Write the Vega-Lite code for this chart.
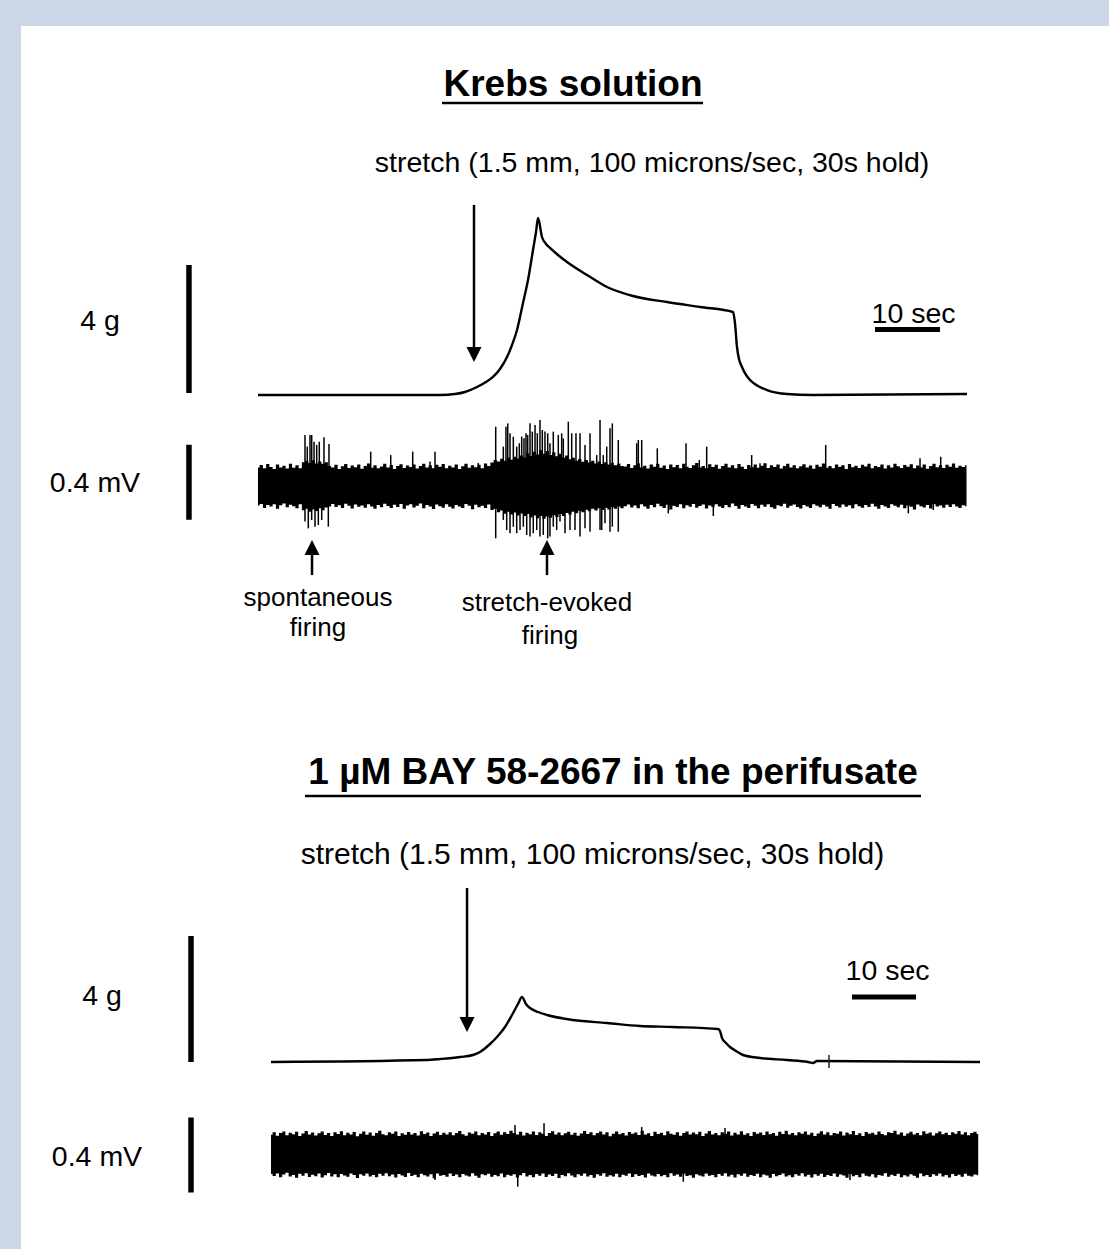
{
"$schema":"https://vega.github.io/schema/vega-lite/v6.json",
"width":1109,"height":1249,
"autosize":{"type":"fit","contains":"padding"},
"padding":{"left":21,"top":26,"right":0,"bottom":0},
"background":"#cdd6e6",
"config":{"view":{"stroke":null,"fill":"#ffffff"},"text":{"font":"Liberation Sans","color":"#000000"}},
"resolve":{"scale":{"x":"independent","y":"independent"}},
"datasets":{
"topForce":[{"t":0,"v":0},{"t":28.0,"v":0},{"t":30.31,"v":0.031},{"t":31.85,"v":0.094},{"t":33.69,"v":0.25},{"t":35.08,"v":0.406},{"t":36.15,"v":0.5625},{"t":37.23,"v":0.8125},{"t":38.31,"v":1.1875},{"t":39.08,"v":1.5625},{"t":39.85,"v":2.031},{"t":40.77,"v":2.875},{"t":41.54,"v":3.594},{"t":42.31,"v":4.531},{"t":42.77,"v":5.094},{"t":43.08,"v":5.531},{"t":43.69,"v":4.938},{"t":44.31,"v":4.719},{"t":44.92,"v":4.594},{"t":46.15,"v":4.375},{"t":47.54,"v":4.156},{"t":50.62,"v":3.75},{"t":53.69,"v":3.375},{"t":57.69,"v":3.094},{"t":62.92,"v":2.906},{"t":68.0,"v":2.75},{"t":73.08,"v":2.594},{"t":73.38,"v":2.25},{"t":73.69,"v":1.5},{"t":74.0,"v":1.125},{"t":74.46,"v":0.875},{"t":75.08,"v":0.625},{"t":75.69,"v":0.469},{"t":76.92,"v":0.281},{"t":78.31,"v":0.156},{"t":81.38,"v":0.031},{"t":85.38,"v":0},{"t":109.08,"v":0.031}],
"bottomForce":[{"t":0,"v":0},{"t":24.38,"v":0.063},{"t":26.41,"v":0.095},{"t":29.53,"v":0.159},{"t":31.56,"v":0.222},{"t":32.66,"v":0.317},{"t":34.22,"v":0.571},{"t":35.31,"v":0.794},{"t":36.56,"v":1.111},{"t":37.66,"v":1.492},{"t":38.59,"v":1.841},{"t":39.22,"v":2.063},{"t":39.84,"v":1.841},{"t":40.47,"v":1.714},{"t":41.72,"v":1.587},{"t":43.13,"v":1.492},{"t":47.19,"v":1.333},{"t":52.5,"v":1.238},{"t":57.66,"v":1.143},{"t":62.81,"v":1.111},{"t":69.84,"v":1.048},{"t":70.16,"v":0.984},{"t":70.47,"v":0.762},{"t":71.09,"v":0.603},{"t":71.72,"v":0.476},{"t":72.66,"v":0.349},{"t":73.75,"v":0.222},{"t":76.41,"v":0.127},{"t":80.63,"v":0.063},{"t":83.91,"v":0},{"t":84.69,"v":-0.032},{"t":85.31,"v":0.032},{"t":110.78,"v":0}],
"topBand":[
{"t":0,"v":0.098,"v2":-0.104},{"t":0.5,"v":0.112,"v2":-0.096},{"t":1,"v":0.094,"v2":-0.118},{"t":1.5,"v":0.117,"v2":-0.101},{"t":2,"v":0.101,"v2":-0.110},{"t":2.5,"v":0.090,"v2":-0.097},{"t":3,"v":0.114,"v2":-0.121},{"t":3.5,"v":0.099,"v2":-0.103},{"t":4,"v":0.108,"v2":-0.094},{"t":4.5,"v":0.093,"v2":-0.114},
{"t":5,"v":0.119,"v2":-0.100},{"t":5.5,"v":0.097,"v2":-0.108},{"t":6,"v":0.110,"v2":-0.119},{"t":6.5,"v":0.095,"v2":-0.098},{"t":7,"v":0.126,"v2":-0.130},{"t":7.5,"v":0.134,"v2":-0.121},{"t":8,"v":0.122,"v2":-0.138},{"t":8.5,"v":0.137,"v2":-0.126},{"t":9,"v":0.120,"v2":-0.133},{"t":9.5,"v":0.131,"v2":-0.119},
{"t":10,"v":0.118,"v2":-0.129},{"t":10.5,"v":0.127,"v2":-0.115},{"t":11,"v":0.106,"v2":-0.109},{"t":11.5,"v":0.098,"v2":-0.096},{"t":12,"v":0.113,"v2":-0.112},{"t":12.5,"v":0.091,"v2":-0.103},{"t":13,"v":0.105,"v2":-0.117},{"t":13.5,"v":0.117,"v2":-0.095},{"t":14,"v":0.096,"v2":-0.106},{"t":14.5,"v":0.109,"v2":-0.120},
{"t":15,"v":0.100,"v2":-0.099},{"t":15.5,"v":0.115,"v2":-0.111},{"t":16,"v":0.092,"v2":-0.104},{"t":16.5,"v":0.107,"v2":-0.116},{"t":17,"v":0.120,"v2":-0.097},{"t":17.5,"v":0.097,"v2":-0.109},{"t":18,"v":0.111,"v2":-0.122},{"t":18.5,"v":0.094,"v2":-0.101},{"t":19,"v":0.104,"v2":-0.113},{"t":19.5,"v":0.118,"v2":-0.095},
{"t":20,"v":0.099,"v2":-0.107},{"t":20.5,"v":0.112,"v2":-0.118},{"t":21,"v":0.090,"v2":-0.100},{"t":21.5,"v":0.106,"v2":-0.112},{"t":22,"v":0.116,"v2":-0.096},{"t":22.5,"v":0.096,"v2":-0.121},{"t":23,"v":0.109,"v2":-0.104},{"t":23.5,"v":0.101,"v2":-0.098},{"t":24,"v":0.114,"v2":-0.115},{"t":24.5,"v":0.093,"v2":-0.106},
{"t":25,"v":0.107,"v2":-0.094},{"t":25.5,"v":0.119,"v2":-0.119},{"t":26,"v":0.098,"v2":-0.102},{"t":26.5,"v":0.110,"v2":-0.110},{"t":27,"v":0.095,"v2":-0.123},{"t":27.5,"v":0.113,"v2":-0.099},{"t":28,"v":0.102,"v2":-0.108},{"t":28.5,"v":0.117,"v2":-0.116},{"t":29,"v":0.094,"v2":-0.097},{"t":29.5,"v":0.108,"v2":-0.111},
{"t":30,"v":0.099,"v2":-0.120},{"t":30.5,"v":0.115,"v2":-0.101},{"t":31,"v":0.091,"v2":-0.109},{"t":31.5,"v":0.105,"v2":-0.117},{"t":32,"v":0.118,"v2":-0.096},{"t":32.5,"v":0.097,"v2":-0.106},{"t":33,"v":0.111,"v2":-0.124},{"t":33.5,"v":0.100,"v2":-0.100},{"t":34,"v":0.113,"v2":-0.113},{"t":34.5,"v":0.095,"v2":-0.105},
{"t":35,"v":0.120,"v2":-0.118},{"t":35.5,"v":0.106,"v2":-0.099},{"t":36,"v":0.125,"v2":-0.128},{"t":36.5,"v":0.138,"v2":-0.122},{"t":37,"v":0.130,"v2":-0.140},{"t":37.5,"v":0.145,"v2":-0.131},{"t":38,"v":0.135,"v2":-0.148},{"t":38.5,"v":0.150,"v2":-0.137},{"t":39,"v":0.140,"v2":-0.152},{"t":39.5,"v":0.156,"v2":-0.142},
{"t":40,"v":0.146,"v2":-0.158},{"t":40.5,"v":0.162,"v2":-0.147},{"t":41,"v":0.152,"v2":-0.160},{"t":41.5,"v":0.175,"v2":-0.150},{"t":42,"v":0.160,"v2":-0.168},{"t":42.5,"v":0.182,"v2":-0.157},{"t":43,"v":0.168,"v2":-0.172},{"t":43.5,"v":0.190,"v2":-0.160},{"t":44,"v":0.172,"v2":-0.175},{"t":44.5,"v":0.186,"v2":-0.163},
{"t":45,"v":0.165,"v2":-0.170},{"t":45.5,"v":0.180,"v2":-0.156},{"t":46,"v":0.158,"v2":-0.165},{"t":46.5,"v":0.172,"v2":-0.150},{"t":47,"v":0.150,"v2":-0.160},{"t":47.5,"v":0.163,"v2":-0.144},{"t":48,"v":0.142,"v2":-0.152},{"t":48.5,"v":0.150,"v2":-0.138},{"t":49,"v":0.134,"v2":-0.146},{"t":49.5,"v":0.144,"v2":-0.132},
{"t":50,"v":0.129,"v2":-0.140},{"t":50.5,"v":0.139,"v2":-0.127},{"t":51,"v":0.125,"v2":-0.135},{"t":51.5,"v":0.134,"v2":-0.122},{"t":52,"v":0.120,"v2":-0.131},{"t":52.5,"v":0.130,"v2":-0.119},{"t":53,"v":0.117,"v2":-0.128},{"t":53.5,"v":0.127,"v2":-0.116},{"t":54,"v":0.114,"v2":-0.125},{"t":54.5,"v":0.124,"v2":-0.113},
{"t":55,"v":0.111,"v2":-0.122},{"t":55.5,"v":0.120,"v2":-0.110},{"t":56,"v":0.107,"v2":-0.119},{"t":56.5,"v":0.104,"v2":-0.108},{"t":57,"v":0.117,"v2":-0.099},{"t":57.5,"v":0.096,"v2":-0.115},{"t":58,"v":0.110,"v2":-0.104},{"t":58.5,"v":0.121,"v2":-0.119},{"t":59,"v":0.099,"v2":-0.097},{"t":59.5,"v":0.108,"v2":-0.110},
{"t":60,"v":0.093,"v2":-0.121},{"t":60.5,"v":0.115,"v2":-0.102},{"t":61,"v":0.102,"v2":-0.113},{"t":61.5,"v":0.118,"v2":-0.095},{"t":62,"v":0.097,"v2":-0.108},{"t":62.5,"v":0.109,"v2":-0.117},{"t":63,"v":0.091,"v2":-0.100},{"t":63.5,"v":0.114,"v2":-0.126},{"t":64,"v":0.100,"v2":-0.105},{"t":64.5,"v":0.112,"v2":-0.112},
{"t":65,"v":0.095,"v2":-0.098},{"t":65.5,"v":0.119,"v2":-0.119},{"t":66,"v":0.103,"v2":-0.103},{"t":66.5,"v":0.096,"v2":-0.111},{"t":67,"v":0.111,"v2":-0.096},{"t":67.5,"v":0.122,"v2":-0.116},{"t":68,"v":0.098,"v2":-0.107},{"t":68.5,"v":0.107,"v2":-0.099},{"t":69,"v":0.094,"v2":-0.120},{"t":69.5,"v":0.116,"v2":-0.104},
{"t":70,"v":0.101,"v2":-0.112},{"t":70.5,"v":0.113,"v2":-0.097},{"t":71,"v":0.092,"v2":-0.109},{"t":71.5,"v":0.106,"v2":-0.118},{"t":72,"v":0.119,"v2":-0.101},{"t":72.5,"v":0.099,"v2":-0.114},{"t":73,"v":0.110,"v2":-0.094},{"t":73.5,"v":0.095,"v2":-0.107},{"t":74,"v":0.117,"v2":-0.121},{"t":74.5,"v":0.103,"v2":-0.102},
{"t":75,"v":0.090,"v2":-0.110},{"t":75.5,"v":0.112,"v2":-0.117},{"t":76,"v":0.100,"v2":-0.096},{"t":76.5,"v":0.115,"v2":-0.105},{"t":77,"v":0.097,"v2":-0.119},{"t":77.5,"v":0.108,"v2":-0.100},{"t":78,"v":0.121,"v2":-0.111},{"t":78.5,"v":0.096,"v2":-0.098},{"t":79,"v":0.110,"v2":-0.113},{"t":79.5,"v":0.101,"v2":-0.122},
{"t":80,"v":0.114,"v2":-0.103},{"t":80.5,"v":0.093,"v2":-0.108},{"t":81,"v":0.107,"v2":-0.095},{"t":81.5,"v":0.118,"v2":-0.116},{"t":82,"v":0.098,"v2":-0.106},{"t":82.5,"v":0.111,"v2":-0.099},{"t":83,"v":0.094,"v2":-0.112},{"t":83.5,"v":0.105,"v2":-0.120},{"t":84,"v":0.116,"v2":-0.101},{"t":84.5,"v":0.099,"v2":-0.109},
{"t":85,"v":0.109,"v2":-0.118},{"t":85.5,"v":0.092,"v2":-0.097},{"t":86,"v":0.113,"v2":-0.105},{"t":86.5,"v":0.102,"v2":-0.114},{"t":87,"v":0.120,"v2":-0.100},{"t":87.5,"v":0.097,"v2":-0.110},{"t":88,"v":0.106,"v2":-0.121},{"t":88.5,"v":0.095,"v2":-0.096},{"t":89,"v":0.115,"v2":-0.107},{"t":89.5,"v":0.103,"v2":-0.115},
{"t":90,"v":0.110,"v2":-0.099},{"t":90.5,"v":0.091,"v2":-0.111},{"t":91,"v":0.117,"v2":-0.103},{"t":91.5,"v":0.100,"v2":-0.119},{"t":92,"v":0.108,"v2":-0.098},{"t":92.5,"v":0.096,"v2":-0.108},{"t":93,"v":0.113,"v2":-0.116},{"t":93.5,"v":0.104,"v2":-0.101},{"t":94,"v":0.119,"v2":-0.112},{"t":94.5,"v":0.094,"v2":-0.095},
{"t":95,"v":0.107,"v2":-0.110},{"t":95.5,"v":0.101,"v2":-0.121},{"t":96,"v":0.115,"v2":-0.102},{"t":96.5,"v":0.093,"v2":-0.109},{"t":97,"v":0.110,"v2":-0.117},{"t":97.5,"v":0.098,"v2":-0.097},{"t":98,"v":0.118,"v2":-0.106},{"t":98.5,"v":0.105,"v2":-0.113},{"t":99,"v":0.096,"v2":-0.100},{"t":99.5,"v":0.112,"v2":-0.119},
{"t":100,"v":0.102,"v2":-0.104},{"t":100.5,"v":0.116,"v2":-0.111},{"t":101,"v":0.095,"v2":-0.126},{"t":101.5,"v":0.109,"v2":-0.099},{"t":102,"v":0.099,"v2":-0.108},{"t":102.5,"v":0.114,"v2":-0.115},{"t":103,"v":0.092,"v2":-0.102},{"t":103.5,"v":0.106,"v2":-0.120},{"t":104,"v":0.118,"v2":-0.097},{"t":104.5,"v":0.100,"v2":-0.110},
{"t":105,"v":0.111,"v2":-0.104},{"t":105.5,"v":0.096,"v2":-0.116},{"t":106,"v":0.113,"v2":-0.100},{"t":106.5,"v":0.103,"v2":-0.112},{"t":107,"v":0.120,"v2":-0.098},{"t":107.5,"v":0.097,"v2":-0.109},{"t":108,"v":0.108,"v2":-0.117},{"t":108.5,"v":0.101,"v2":-0.103},{"t":109,"v":0.110,"v2":-0.108}],
"topSpikes":[
{"t":7.23,"v":0,"v2":0.272},{"t":7.58,"v":0,"v2":0.210},{"t":8.00,"v":0,"v2":0.272},{"t":8.26,"v":0,"v2":0.272},{"t":8.62,"v":0,"v2":0.236},{"t":9.03,"v":0,"v2":0.219},{"t":9.43,"v":0,"v2":0.236},{"t":10.15,"v":0,"v2":0.260},{"t":10.92,"v":0,"v2":0.224},
{"t":17.34,"v":0,"v2":0.183},{"t":20.42,"v":0,"v2":0.165},{"t":23.80,"v":0,"v2":0.183},{"t":27.23,"v":0,"v2":0.183},{"t":26.46,"v":0,"v2":0.130},{"t":33.89,"v":0,"v2":0.123},
{"t":36.57,"v":0,"v2":0.316},{"t":37.74,"v":0,"v2":0.210},{"t":38.15,"v":0,"v2":0.316},{"t":38.42,"v":0,"v2":0.334},{"t":38.77,"v":0,"v2":0.281},{"t":39.28,"v":0,"v2":0.263},{"t":39.80,"v":0,"v2":0.210},{"t":40.20,"v":0,"v2":0.228},{"t":40.57,"v":0,"v2":0.263},{"t":40.92,"v":0,"v2":0.254},
{"t":41.23,"v":0,"v2":0.281},{"t":41.49,"v":0,"v2":0.272},{"t":41.85,"v":0,"v2":0.334},{"t":42.20,"v":0,"v2":0.290},{"t":42.62,"v":0,"v2":0.325},{"t":42.97,"v":0,"v2":0.281},{"t":43.38,"v":0,"v2":0.352},{"t":43.74,"v":0,"v2":0.299},{"t":44.15,"v":0,"v2":0.290},{"t":44.57,"v":0,"v2":0.281},
{"t":44.92,"v":0,"v2":0.228},{"t":45.43,"v":0,"v2":0.290},{"t":46.20,"v":0,"v2":0.272},{"t":46.72,"v":0,"v2":0.281},{"t":46.97,"v":0,"v2":0.254},{"t":47.74,"v":0,"v2":0.343},{"t":48.26,"v":0,"v2":0.281},{"t":48.92,"v":0,"v2":0.281},{"t":49.54,"v":0,"v2":0.281},{"t":50.31,"v":0,"v2":0.219},
{"t":51.08,"v":0,"v2":0.281},{"t":52.11,"v":0,"v2":0.165},{"t":52.62,"v":0,"v2":0.352},{"t":53.12,"v":0,"v2":0.165},{"t":53.65,"v":0,"v2":0.210},{"t":54.15,"v":0,"v2":0.308},{"t":54.51,"v":0,"v2":0.334},{"t":55.43,"v":0,"v2":0.245},{"t":58.26,"v":0,"v2":0.228},{"t":58.51,"v":0,"v2":0.245},
{"t":59.03,"v":0,"v2":0.245},{"t":61.43,"v":0,"v2":0.201},{"t":65.85,"v":0,"v2":0.228},{"t":67.89,"v":0,"v2":0.139},{"t":69.03,"v":0,"v2":0.210},{"t":75.95,"v":0,"v2":0.165},{"t":77.23,"v":0,"v2":0.121},{"t":87.34,"v":0,"v2":0.219},{"t":101.85,"v":0,"v2":0.148},{"t":105.03,"v":0,"v2":0.156},
{"t":7.23,"v":0,"v2":-0.190},{"t":7.74,"v":0,"v2":-0.226},{"t":8.26,"v":0,"v2":-0.181},{"t":8.77,"v":0,"v2":-0.217},{"t":9.28,"v":0,"v2":-0.208},{"t":9.80,"v":0,"v2":-0.181},{"t":10.82,"v":0,"v2":-0.217},
{"t":36.57,"v":0,"v2":-0.279},{"t":37.74,"v":0,"v2":-0.181},{"t":38.26,"v":0,"v2":-0.235},{"t":38.77,"v":0,"v2":-0.252},{"t":39.28,"v":0,"v2":-0.217},{"t":39.80,"v":0,"v2":-0.252},{"t":40.31,"v":0,"v2":-0.235},{"t":40.82,"v":0,"v2":-0.217},{"t":41.34,"v":0,"v2":-0.261},{"t":41.85,"v":0,"v2":-0.270},
{"t":42.35,"v":0,"v2":-0.252},{"t":42.88,"v":0,"v2":-0.235},{"t":43.38,"v":0,"v2":-0.270},{"t":43.89,"v":0,"v2":-0.261},{"t":44.57,"v":0,"v2":-0.279},{"t":44.92,"v":0,"v2":-0.270},{"t":45.43,"v":0,"v2":-0.217},{"t":45.95,"v":0,"v2":-0.235},{"t":46.46,"v":0,"v2":-0.190},{"t":47.23,"v":0,"v2":-0.252},
{"t":48.00,"v":0,"v2":-0.235},{"t":48.77,"v":0,"v2":-0.235},{"t":49.54,"v":0,"v2":-0.270},{"t":50.31,"v":0,"v2":-0.226},{"t":51.08,"v":0,"v2":-0.244},{"t":52.62,"v":0,"v2":-0.235},{"t":52.88,"v":0,"v2":-0.235},{"t":53.38,"v":0,"v2":-0.199},{"t":54.15,"v":0,"v2":-0.244},{"t":54.51,"v":0,"v2":-0.217},
{"t":55.43,"v":0,"v2":-0.244},{"t":63.12,"v":0,"v2":-0.146},{"t":70.05,"v":0,"v2":-0.160},{"t":100.05,"v":0,"v2":-0.146},{"t":103.89,"v":0,"v2":-0.128}],
"bottomBand":[
{"t":0,"v":0.108,"v2":-0.101},{"t":0.5,"v":0.121,"v2":-0.112},{"t":1,"v":0.103,"v2":-0.098},{"t":1.5,"v":0.117,"v2":-0.118},{"t":2,"v":0.126,"v2":-0.104},{"t":2.5,"v":0.106,"v2":-0.095},{"t":3,"v":0.119,"v2":-0.115},{"t":3.5,"v":0.111,"v2":-0.106},{"t":4,"v":0.124,"v2":-0.121},{"t":4.5,"v":0.102,"v2":-0.100},
{"t":5,"v":0.115,"v2":-0.110},{"t":5.5,"v":0.128,"v2":-0.097},{"t":6,"v":0.109,"v2":-0.117},{"t":6.5,"v":0.120,"v2":-0.105},{"t":7,"v":0.104,"v2":-0.113},{"t":7.5,"v":0.116,"v2":-0.099},{"t":8,"v":0.125,"v2":-0.120},{"t":8.5,"v":0.107,"v2":-0.108},{"t":9,"v":0.118,"v2":-0.096},{"t":9.5,"v":0.101,"v2":-0.114},
{"t":10,"v":0.122,"v2":-0.103},{"t":10.5,"v":0.112,"v2":-0.119},{"t":11,"v":0.127,"v2":-0.101},{"t":11.5,"v":0.105,"v2":-0.109},{"t":12,"v":0.119,"v2":-0.116},{"t":12.5,"v":0.110,"v2":-0.098},{"t":13,"v":0.123,"v2":-0.107},{"t":13.5,"v":0.100,"v2":-0.122},{"t":14,"v":0.114,"v2":-0.102},{"t":14.5,"v":0.126,"v2":-0.111},
{"t":15,"v":0.108,"v2":-0.099},{"t":15.5,"v":0.120,"v2":-0.115},{"t":16,"v":0.103,"v2":-0.106},{"t":16.5,"v":0.117,"v2":-0.118},{"t":17,"v":0.129,"v2":-0.100},{"t":17.5,"v":0.111,"v2":-0.110},{"t":18,"v":0.106,"v2":-0.097},{"t":18.5,"v":0.121,"v2":-0.113},{"t":19,"v":0.113,"v2":-0.104},{"t":19.5,"v":0.125,"v2":-0.120},
{"t":20,"v":0.102,"v2":-0.101},{"t":20.5,"v":0.116,"v2":-0.109},{"t":21,"v":0.108,"v2":-0.117},{"t":21.5,"v":0.123,"v2":-0.096},{"t":22,"v":0.110,"v2":-0.112},{"t":22.5,"v":0.118,"v2":-0.105},{"t":23,"v":0.104,"v2":-0.119},{"t":23.5,"v":0.127,"v2":-0.100},{"t":24,"v":0.112,"v2":-0.108},{"t":24.5,"v":0.120,"v2":-0.114},
{"t":25,"v":0.101,"v2":-0.103},{"t":25.5,"v":0.115,"v2":-0.124},{"t":26,"v":0.124,"v2":-0.099},{"t":26.5,"v":0.107,"v2":-0.110},{"t":27,"v":0.119,"v2":-0.106},{"t":27.5,"v":0.109,"v2":-0.116},{"t":28,"v":0.122,"v2":-0.098},{"t":28.5,"v":0.105,"v2":-0.112},{"t":29,"v":0.117,"v2":-0.104},{"t":29.5,"v":0.128,"v2":-0.119},
{"t":30,"v":0.111,"v2":-0.101},{"t":30.5,"v":0.103,"v2":-0.109},{"t":31,"v":0.120,"v2":-0.115},{"t":31.5,"v":0.113,"v2":-0.097},{"t":32,"v":0.125,"v2":-0.111},{"t":32.5,"v":0.106,"v2":-0.121},{"t":33,"v":0.118,"v2":-0.103},{"t":33.5,"v":0.110,"v2":-0.108},{"t":34,"v":0.123,"v2":-0.100},{"t":34.5,"v":0.102,"v2":-0.116},
{"t":35,"v":0.116,"v2":-0.107},{"t":35.5,"v":0.126,"v2":-0.113},{"t":36,"v":0.108,"v2":-0.099},{"t":36.5,"v":0.121,"v2":-0.118},{"t":37,"v":0.112,"v2":-0.105},{"t":37.5,"v":0.130,"v2":-0.110},{"t":38,"v":0.117,"v2":-0.102},{"t":38.5,"v":0.109,"v2":-0.120},{"t":39,"v":0.124,"v2":-0.108},{"t":39.5,"v":0.104,"v2":-0.096},
{"t":40,"v":0.119,"v2":-0.114},{"t":40.5,"v":0.111,"v2":-0.106},{"t":41,"v":0.126,"v2":-0.119},{"t":41.5,"v":0.107,"v2":-0.101},{"t":42,"v":0.122,"v2":-0.111},{"t":42.5,"v":0.114,"v2":-0.098},{"t":43,"v":0.101,"v2":-0.117},{"t":43.5,"v":0.118,"v2":-0.104},{"t":44,"v":0.127,"v2":-0.112},{"t":44.5,"v":0.110,"v2":-0.100},
{"t":45,"v":0.120,"v2":-0.122},{"t":45.5,"v":0.105,"v2":-0.107},{"t":46,"v":0.116,"v2":-0.113},{"t":46.5,"v":0.124,"v2":-0.097},{"t":47,"v":0.108,"v2":-0.109},{"t":47.5,"v":0.119,"v2":-0.118},{"t":48,"v":0.103,"v2":-0.103},{"t":48.5,"v":0.115,"v2":-0.110},{"t":49,"v":0.128,"v2":-0.099},{"t":49.5,"v":0.112,"v2":-0.115},
{"t":50,"v":0.121,"v2":-0.106},{"t":50.5,"v":0.106,"v2":-0.121},{"t":51,"v":0.117,"v2":-0.102},{"t":51.5,"v":0.125,"v2":-0.111},{"t":52,"v":0.109,"v2":-0.097},{"t":52.5,"v":0.122,"v2":-0.116},{"t":53,"v":0.100,"v2":-0.108},{"t":53.5,"v":0.114,"v2":-0.114},{"t":54,"v":0.126,"v2":-0.100},{"t":54.5,"v":0.111,"v2":-0.119},
{"t":55,"v":0.118,"v2":-0.105},{"t":55.5,"v":0.104,"v2":-0.110},{"t":56,"v":0.123,"v2":-0.098},{"t":56.5,"v":0.113,"v2":-0.117},{"t":57,"v":0.120,"v2":-0.103},{"t":57.5,"v":0.107,"v2":-0.112},{"t":58,"v":0.129,"v2":-0.107},{"t":58.5,"v":0.110,"v2":-0.120},{"t":59,"v":0.116,"v2":-0.099},{"t":59.5,"v":0.102,"v2":-0.109},
{"t":60,"v":0.124,"v2":-0.115},{"t":60.5,"v":0.112,"v2":-0.101},{"t":61,"v":0.119,"v2":-0.113},{"t":61.5,"v":0.105,"v2":-0.106},{"t":62,"v":0.127,"v2":-0.118},{"t":62.5,"v":0.114,"v2":-0.097},{"t":63,"v":0.108,"v2":-0.110},{"t":63.5,"v":0.121,"v2":-0.104},{"t":64,"v":0.103,"v2":-0.116},{"t":64.5,"v":0.117,"v2":-0.100},
{"t":65,"v":0.126,"v2":-0.112},{"t":65.5,"v":0.109,"v2":-0.108},{"t":66,"v":0.120,"v2":-0.121},{"t":66.5,"v":0.111,"v2":-0.102},{"t":67,"v":0.124,"v2":-0.109},{"t":67.5,"v":0.101,"v2":-0.115},{"t":68,"v":0.115,"v2":-0.099},{"t":68.5,"v":0.128,"v2":-0.111},{"t":69,"v":0.110,"v2":-0.106},{"t":69.5,"v":0.118,"v2":-0.119},
{"t":70,"v":0.106,"v2":-0.101},{"t":70.5,"v":0.122,"v2":-0.110},{"t":71,"v":0.113,"v2":-0.097},{"t":71.5,"v":0.125,"v2":-0.114},{"t":72,"v":0.104,"v2":-0.105},{"t":72.5,"v":0.119,"v2":-0.120},{"t":73,"v":0.110,"v2":-0.103},{"t":73.5,"v":0.127,"v2":-0.111},{"t":74,"v":0.108,"v2":-0.098},{"t":74.5,"v":0.116,"v2":-0.116},
{"t":75,"v":0.102,"v2":-0.107},{"t":75.5,"v":0.123,"v2":-0.112},{"t":76,"v":0.114,"v2":-0.100},{"t":76.5,"v":0.120,"v2":-0.118},{"t":77,"v":0.107,"v2":-0.104},{"t":77.5,"v":0.126,"v2":-0.109},{"t":78,"v":0.111,"v2":-0.121},{"t":78.5,"v":0.118,"v2":-0.101},{"t":79,"v":0.103,"v2":-0.113},{"t":79.5,"v":0.124,"v2":-0.106},
{"t":80,"v":0.112,"v2":-0.099},{"t":80.5,"v":0.129,"v2":-0.115},{"t":81,"v":0.109,"v2":-0.108},{"t":81.5,"v":0.117,"v2":-0.119},{"t":82,"v":0.105,"v2":-0.102},{"t":82.5,"v":0.121,"v2":-0.111},{"t":83,"v":0.114,"v2":-0.097},{"t":83.5,"v":0.126,"v2":-0.114},{"t":84,"v":0.108,"v2":-0.105},{"t":84.5,"v":0.119,"v2":-0.120},
{"t":85,"v":0.101,"v2":-0.103},{"t":85.5,"v":0.115,"v2":-0.110},{"t":86,"v":0.127,"v2":-0.100},{"t":86.5,"v":0.110,"v2":-0.117},{"t":87,"v":0.122,"v2":-0.107},{"t":87.5,"v":0.106,"v2":-0.112},{"t":88,"v":0.118,"v2":-0.098},{"t":88.5,"v":0.113,"v2":-0.116},{"t":89,"v":0.125,"v2":-0.104},{"t":89.5,"v":0.104,"v2":-0.109},
{"t":90,"v":0.120,"v2":-0.121},{"t":90.5,"v":0.111,"v2":-0.101},{"t":91,"v":0.128,"v2":-0.113},{"t":91.5,"v":0.107,"v2":-0.106},{"t":92,"v":0.116,"v2":-0.118},{"t":92.5,"v":0.102,"v2":-0.099},{"t":93,"v":0.123,"v2":-0.110},{"t":93.5,"v":0.114,"v2":-0.115},{"t":94,"v":0.119,"v2":-0.103},{"t":94.5,"v":0.108,"v2":-0.120},
{"t":95,"v":0.126,"v2":-0.107},{"t":95.5,"v":0.112,"v2":-0.111},{"t":96,"v":0.105,"v2":-0.097},{"t":96.5,"v":0.121,"v2":-0.116},{"t":97,"v":0.117,"v2":-0.105},{"t":97.5,"v":0.129,"v2":-0.112},{"t":98,"v":0.109,"v2":-0.100},{"t":98.5,"v":0.120,"v2":-0.119},{"t":99,"v":0.103,"v2":-0.108},{"t":99.5,"v":0.115,"v2":-0.114},
{"t":100,"v":0.124,"v2":-0.102},{"t":100.5,"v":0.110,"v2":-0.110},{"t":101,"v":0.118,"v2":-0.121},{"t":101.5,"v":0.106,"v2":-0.099},{"t":102,"v":0.127,"v2":-0.113},{"t":102.5,"v":0.113,"v2":-0.106},{"t":103,"v":0.120,"v2":-0.117},{"t":103.5,"v":0.104,"v2":-0.103},{"t":104,"v":0.116,"v2":-0.111},{"t":104.5,"v":0.125,"v2":-0.098},
{"t":105,"v":0.111,"v2":-0.115},{"t":105.5,"v":0.119,"v2":-0.107},{"t":106,"v":0.107,"v2":-0.120},{"t":106.5,"v":0.122,"v2":-0.101},{"t":107,"v":0.114,"v2":-0.112},{"t":107.5,"v":0.128,"v2":-0.105},{"t":108,"v":0.109,"v2":-0.116},{"t":108.5,"v":0.121,"v2":-0.100},{"t":109,"v":0.105,"v2":-0.110},{"t":109.5,"v":0.117,"v2":-0.114},
{"t":110,"v":0.124,"v2":-0.104},{"t":110.5,"v":0.112,"v2":-0.108}],
"bottomSpikes":[{"t":38.13,"v":0,"v2":0.160},{"t":42.66,"v":0,"v2":0.169},{"t":57.92,"v":0,"v2":0.149},{"t":70.94,"v":0,"v2":0.144},{"t":38.55,"v":0,"v2":-0.169},{"t":25.63,"v":0,"v2":-0.133},{"t":64.42,"v":0,"v2":-0.142},{"t":90.47,"v":0,"v2":-0.133}]
},
"layer":[
{
"encoding":{
"x":{"field":"t","type":"quantitative","axis":null,"scale":{"domain":[-36.462,130.923],"nice":false,"zero":false}},
"y":{"field":"v","type":"quantitative","axis":null,"scale":{"domain":[-26.6875,11.531],"nice":false,"zero":false}}
},
"layer":[
{"data":{"name":"topForce"},"mark":{"type":"line","color":"#000000","strokeWidth":2.4,"strokeJoin":"round","interpolate":"monotone"}},
{"data":{"values":[{"t":48.46,"v":9.34,"label":"Krebs solution"}]},"mark":{"type":"text","fontSize":37,"fontWeight":"bold","align":"center","baseline":"alphabetic"},"encoding":{"text":{"field":"label"}}},
{"data":{"values":[{"t":28.31,"t2":68.46,"v":9.125}]},"mark":{"type":"rule","color":"#000000","strokeWidth":2.5},"encoding":{"x2":{"field":"t2"}}},
{"data":{"values":[{"t":60.62,"v":6.97,"label":"stretch (1.5 mm, 100 microns/sec, 30s hold)"}]},"mark":{"type":"text","fontSize":28.5,"align":"center","baseline":"alphabetic"},"encoding":{"text":{"field":"label"}}},
{"data":{"values":[{"t":33.23,"v":5.94,"v2":1.406}]},"mark":{"type":"rule","color":"#000000","strokeWidth":2.5},"encoding":{"y2":{"field":"v2"}}},
{"data":{"values":[{"t":33.23,"v":1.266}]},"mark":{"type":"point","shape":"M-1,-1L1,-1L0,1Z","size":225,"filled":true,"color":"#000000","opacity":1,"strokeWidth":0}},
{"data":{"values":[{"t":-10.62,"v":0.06,"v2":4.06}]},"mark":{"type":"rule","color":"#000000","strokeWidth":5.5},"encoding":{"y2":{"field":"v2"}}},
{"data":{"values":[{"t":94.92,"t2":104.92,"v":2.05}]},"mark":{"type":"rule","color":"#000000","strokeWidth":5},"encoding":{"x2":{"field":"t2"}}},
{"data":{"values":[{"t":-24.31,"v":2.03,"label":"4 g"},{"t":100.85,"v":2.25,"label":"10 sec"}]},"mark":{"type":"text","fontSize":28.5,"align":"center","baseline":"alphabetic"},"encoding":{"text":{"field":"label"}}}
]
},
{
"encoding":{
"x":{"field":"t","type":"quantitative","axis":null,"scale":{"domain":[-36.462,130.923],"nice":false,"zero":false}},
"y":{"field":"v","type":"quantitative","axis":null,"scale":{"domain":[-4.0693,2.4533],"nice":false,"zero":false}}
},
"layer":[
{"data":{"name":"topBand"},"mark":{"type":"area","color":"#000000","opacity":1,"interpolate":"step"},"encoding":{"y2":{"field":"v2"}}},
{"data":{"name":"topSpikes"},"mark":{"type":"rule","color":"#000000","strokeWidth":1.5},"encoding":{"y2":{"field":"v2"}}},
{"data":{"values":[{"t":-10.62,"v":-0.18,"v2":0.22}]},"mark":{"type":"rule","color":"#000000","strokeWidth":5.5},"encoding":{"y2":{"field":"v2"}}},
{"data":{"values":[{"t":8.31,"v":-0.475,"v2":-0.345},{"t":44.46,"v":-0.475,"v2":-0.345}]},"mark":{"type":"rule","color":"#000000","strokeWidth":2.5},"encoding":{"y2":{"field":"v2"}}},
{"data":{"values":[{"t":8.31,"v":-0.328},{"t":44.46,"v":-0.328}]},"mark":{"type":"point","shape":"M-1,1L1,1L0,-1Z","size":225,"filled":true,"color":"#000000","opacity":1,"strokeWidth":0}},
{"data":{"values":[{"t":-25.08,"v":-0.032,"label":"0.4 mV"}]},"mark":{"type":"text","fontSize":28.5,"align":"center","baseline":"alphabetic"},"encoding":{"text":{"field":"label"}}},
{"data":{"values":[{"t":9.23,"v":-0.64,"label":"spontaneous"},{"t":9.23,"v":-0.80,"label":"firing"},{"t":44.46,"v":-0.667,"label":"stretch-evoked"},{"t":44.92,"v":-0.843,"label":"firing"}]},"mark":{"type":"text","fontSize":26,"align":"center","baseline":"alphabetic"},"encoding":{"text":{"field":"label"}}}
]
},
{
"encoding":{
"x":{"field":"t","type":"quantitative","axis":null,"scale":{"domain":[-39.0625,130.9375],"nice":false,"zero":false}},
"y":{"field":"v","type":"quantitative","axis":null,"scale":{"domain":[-5.937,32.889],"nice":false,"zero":false}}
},
"layer":[
{"data":{"name":"bottomForce"},"mark":{"type":"line","color":"#000000","strokeWidth":2.4,"strokeJoin":"round","interpolate":"monotone"}},
{"data":{"values":[{"t":87.19,"v":0.222,"v2":-0.19}]},"mark":{"type":"rule","color":"#222222","strokeWidth":1.5},"encoding":{"y2":{"field":"v2"}}},
{"data":{"values":[{"t":53.44,"v":8.825,"label":"1 µM BAY 58-2667 in the perifusate"}]},"mark":{"type":"text","fontSize":37,"fontWeight":"bold","align":"center","baseline":"alphabetic"},"encoding":{"text":{"field":"label"}}},
{"data":{"values":[{"t":5.31,"t2":101.56,"v":8.444}]},"mark":{"type":"rule","color":"#000000","strokeWidth":2.5},"encoding":{"x2":{"field":"t2"}}},
{"data":{"values":[{"t":50.23,"v":6.286,"label":"stretch (1.5 mm, 100 microns/sec, 30s hold)"}]},"mark":{"type":"text","fontSize":30,"align":"center","baseline":"alphabetic"},"encoding":{"text":{"field":"label"}}},
{"data":{"values":[{"t":30.63,"v":5.524,"v2":1.333}]},"mark":{"type":"rule","color":"#000000","strokeWidth":2.5},"encoding":{"y2":{"field":"v2"}}},
{"data":{"values":[{"t":30.63,"v":1.19}]},"mark":{"type":"point","shape":"M-1,-1L1,-1L0,1Z","size":225,"filled":true,"color":"#000000","opacity":1,"strokeWidth":0}},
{"data":{"values":[{"t":-12.5,"v":0,"v2":4}]},"mark":{"type":"rule","color":"#000000","strokeWidth":5.5},"encoding":{"y2":{"field":"v2"}}},
{"data":{"values":[{"t":90.78,"t2":100.78,"v":2.063}]},"mark":{"type":"rule","color":"#000000","strokeWidth":5},"encoding":{"x2":{"field":"t2"}}},
{"data":{"values":[{"t":-26.41,"v":1.81,"label":"4 g"},{"t":96.33,"v":2.603,"label":"10 sec"}]},"mark":{"type":"text","fontSize":28.5,"align":"center","baseline":"alphabetic"},"encoding":{"text":{"field":"label"}}}
]
},
{
"encoding":{
"x":{"field":"t","type":"quantitative","axis":null,"scale":{"domain":[-39.0625,130.9375],"nice":false,"zero":false}},
"y":{"field":"v","type":"quantitative","axis":null,"scale":{"domain":[-0.5013,6.0213],"nice":false,"zero":false}}
},
"layer":[
{"data":{"name":"bottomBand"},"mark":{"type":"area","color":"#000000","opacity":1,"interpolate":"step"},"encoding":{"y2":{"field":"v2"}}},
{"data":{"name":"bottomSpikes"},"mark":{"type":"rule","color":"#000000","strokeWidth":1.5},"encoding":{"y2":{"field":"v2"}}},
{"data":{"values":[{"t":-12.5,"v":-0.2,"v2":0.2}]},"mark":{"type":"rule","color":"#000000","strokeWidth":5.5},"encoding":{"y2":{"field":"v2"}}},
{"data":{"values":[{"t":-27.19,"v":-0.059,"label":"0.4 mV"}]},"mark":{"type":"text","fontSize":28.5,"align":"center","baseline":"alphabetic"},"encoding":{"text":{"field":"label"}}}
]
}
]
}
